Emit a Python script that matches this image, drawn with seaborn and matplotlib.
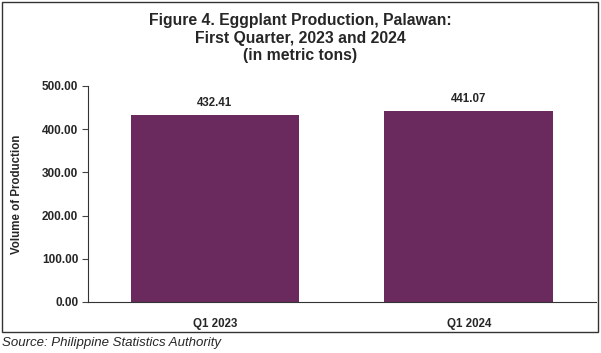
import matplotlib
matplotlib.use("Agg")
import matplotlib.pyplot as plt
import seaborn as sns
import pandas as pd
from matplotlib.patches import Rectangle

quarters = ["Q1 2023", "Q1 2024"]
production = [432.41, 441.07]
yticks = [0, 100, 200, 300, 400, 500]

df = pd.DataFrame({"quarter": quarters, "volume": production})

sns.set_style("white")
plt.rcParams["font.family"] = ["Liberation Sans", "DejaVu Sans"]

fig = plt.figure(figsize=(6.01, 3.53), dpi=100)
ax = fig.add_axes([0.1464, 0.1445, 0.845, 0.612])

sns.barplot(data=df, x="quarter", y="volume", color="#6A2A5E", width=0.665,
            saturation=1, linewidth=0, ax=ax)

for i, v in enumerate(production):
    ax.text(i, v + 14, f"{v:.2f}", ha="center", va="bottom",
            fontsize=8.3, fontweight="bold")

ax.set_ylim(0, 500)
ax.set_yticks(yticks)
ax.set_yticklabels([f"{t:.2f}" for t in yticks], fontsize=8.5, fontweight="bold")
ax.set_xlim(-0.5, 1.5)
ax.set_xlabel("")
ax.set_ylabel("")
fig.text(0.028, 0.45, "Volume of Production", rotation=90, ha="center", va="center",
         fontsize=8.3, fontweight="bold")
for lbl in ax.get_xticklabels():
    lbl.set_fontweight("bold")
    lbl.set_fontsize(8.3)
ax.tick_params(axis="y", left=True, length=4, width=0.8, color="#444444", pad=3)
ax.tick_params(axis="x", bottom=False, pad=8)
sns.despine(ax=ax, top=True, right=True)
for s in ["left", "bottom"]:
    ax.spines[s].set_color("#333333")
    ax.spines[s].set_linewidth(0.8)

fig.text(0.5, 0.962, "Figure 4. Eggplant Production, Palawan:\nFirst Quarter, 2023 and 2024\n(in metric tons)",
         ha="center", va="top", fontsize=11.3, fontweight="bold", linespacing=1.2)

fig.patches.append(Rectangle((0.003, 0.0595), 0.992, 0.935, transform=fig.transFigure,
                             fill=False, edgecolor="#333333", linewidth=1))

fig.text(0.003, 0.028, "Source: Philippine Statistics Authority", ha="left", va="center",
         fontsize=9.5, style="italic")

fig.savefig("out.png", dpi=100)
